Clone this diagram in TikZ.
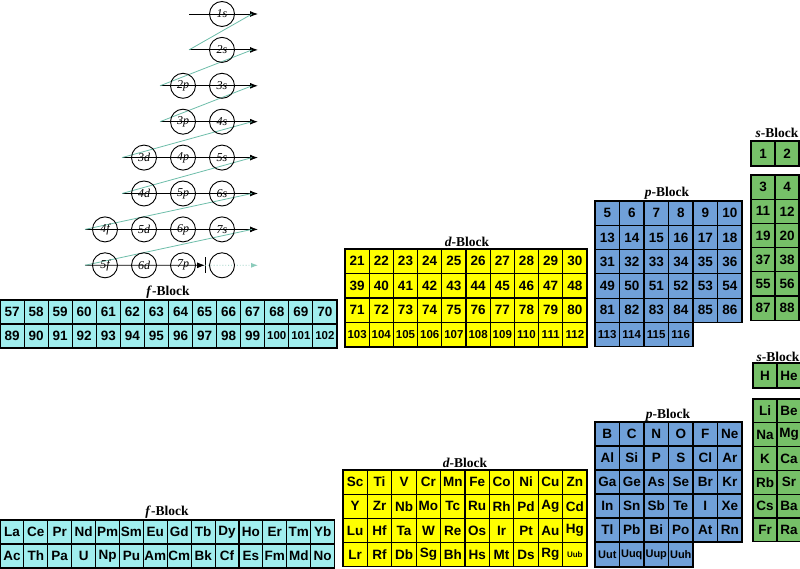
\documentclass[tikz,border=0pt]{standalone}
\usepackage{fontspec}
\setmainfont{Liberation Serif}
\setsansfont{Liberation Sans}
\usetikzlibrary{arrows.meta}

\definecolor{fcol}{RGB}{160,238,238}
\definecolor{dcol}{RGB}{255,255,0}
\definecolor{pcol}{RGB}{112,160,216}
\definecolor{scol}{RGB}{118,192,104}
\definecolor{diag}{RGB}{110,190,170}

\tikzset{
	cell/.style = {draw, line width = 1.1pt, inner sep = 0pt, font = \sffamily\bfseries\fontsize{13.5}{13.5}\selectfont},
	small cell/.style = {font = \sffamily\bfseries\fontsize{11}{11}\selectfont},
	tiny cell/.style = {font = \sffamily\bfseries\fontsize{8}{8}\selectfont},
	blocktitle/.style = {font = \bfseries\fontsize{13.5}{13.5}\selectfont},
	orb/.style = {draw, circle, line width = 0.9pt, minimum size = 25pt, inner sep = 0pt, font = \itshape\fontsize{12}{12}\selectfont},
	rowline/.style = {line width = 0.9pt, -{Latex[length = 8pt, width = 6pt]}},
}

\begin{document}
\begin{tikzpicture}[x = 1pt, y = -1pt]
	\fill[white] (0, 0) rectangle (800, 569);
	\useasboundingbox (0, 0) rectangle (800, 569);

	\foreach \r/\s in {1/189, 2/189, 3/160, 4/160, 5/122, 6/122, 7/85, 8/85} {
		\coordinate (a\r) at (\s, {14 + 35.9*(\r-1)});
		\coordinate (b\r) at (258, {14 + 35.9*(\r-1)});
	}
	\coordinate (m8) at (205, 265.3);
	\foreach \r in {1, ..., 7} {
		\draw[rowline] (a\r) -- (b\r);
	}
	\draw[rowline] (a8) -- (m8);
	\draw[line width = 1pt] ([yshift = 8pt]m8) -- ([yshift = -8pt]m8);
	\draw[diag!80, dotted, line width = 0.9pt, -{Latex[length = 7pt, width = 5pt]}] (m8) -- (b8);
	\foreach \r [evaluate = \r as \n using int(\r+1)] in {1, ..., 7} {
		\draw[diag, line width = 0.8pt] ([xshift = -6pt]b\r) -- (a\n);
	}
	\foreach \lab/\c/\r in {1s/4/1, 2s/4/2, 2p/3/3, 3s/4/3, 3p/3/4, 4s/4/4, 3d/2/5, 4p/3/5, 5s/4/5, 4d/2/6, 5p/3/6, 6s/4/6, 4f/1/7, 5d/2/7, 6p/3/7, 7s/4/7, 5f/1/8, 6d/2/8, 7p/3/8} {
		\node[orb] (o\lab) at ({105 + 39*(\c-1)}, {14 + 35.9*(\r-1)}) {\lab};
	}
	\node[orb] (oempty) at (222, 265.3) {};

	\node[blocktitle] (tft) at (168, 292) {\textit{f}-Block};
	\foreach \lo/\hi [count = \r] in {57/70, 89/102} {
		\foreach \z [count = \c] in {\lo, ..., \hi} {
			\node[cell, fill = fcol, minimum width = 24.07pt, minimum height = 24pt] (tf-\r-\c) at ({12.03 + 24.07*(\c-1)}, {312 + 24*(\r-1)}) {\ifnum\z>99 \fontsize{11.5}{11.5}\selectfont\fi\z};
		}
	}

	\node[blocktitle] (tdt) at (467, 242) {\textit{d}-Block};
	\foreach \lo/\hi [count = \r] in {21/30, 39/48, 71/80, 103/112} {
		\foreach \z [count = \c] in {\lo, ..., \hi} {
			\node[cell, fill = dcol, minimum width = 24.2pt, minimum height = 24.5pt] (td-\r-\c) at ({357.1 + 24.2*(\c-1)}, {261.25 + 24.5*(\r-1)}) {\ifnum\z>99 \fontsize{11.5}{11.5}\selectfont\fi\z};
		}
	}

	\node[blocktitle] (tpt) at (667, 193) {\textit{p}-Block};
	\foreach \lo/\hi [count = \r] in {5/10, 13/18, 31/36, 49/54, 81/86, 113/116} {
		\foreach \z [count = \c] in {\lo, ..., \hi} {
			\node[cell, fill = pcol, minimum width = 24.5pt, minimum height = 24.3pt] (tp-\r-\c) at ({607.25 + 24.5*(\c-1)}, {213.15 + 24.3*(\r-1)}) {\ifnum\z>99 \fontsize{11.5}{11.5}\selectfont\fi\z};
		}
	}

	\node[blocktitle] (tst) at (777, 133) {\textit{s}-Block};
	\foreach \z [count = \c] in {1, 2} {
		\node[cell, fill = scol, minimum width = 24pt, minimum height = 25pt] (ts-0-\c) at ({763 + 24*(\c-1)}, 153.5) {\z};
	}
	\foreach \lo/\hi [count = \r] in {3/4, 11/12, 19/20, 37/38, 55/56, 87/88} {
		\foreach \z [count = \c] in {\lo, \hi} {
			\node[cell, fill = scol, minimum width = 24pt, minimum height = 24.2pt] (ts-\r-\c) at ({763 + 24*(\c-1)}, {187.1 + 24.2*(\r-1)}) {\z};
		}
	}

	\node[blocktitle] (bft) at (167, 512) {\textit{f}-Block};
	\foreach \row [count = \r] in {{La, Ce, Pr, Nd, Pm, Sm, Eu, Gd, Tb, Dy, Ho, Er, Tm, Yb}, {Ac, Th, Pa, U, Np, Pu, Am, Cm, Bk, Cf, Es, Fm, Md, No}} {
		\foreach \z [count = \c] in \row {
			\node[cell, fill = fcol, minimum width = 23.9pt, minimum height = 24pt] (bf-\r-\c) at ({11.95 + 23.9*(\c-1)}, {532 + 24*(\r-1)}) {\z};
		}
	}

	\node[blocktitle] (bdt) at (465, 463) {\textit{d}-Block};
	\foreach \row [count = \r] in {{Sc, Ti, V, Cr, Mn, Fe, Co, Ni, Cu, Zn}, {Y, Zr, Nb, Mo, Tc, Ru, Rh, Pd, Ag, Cd}, {Lu, Hf, Ta, W, Re, Os, Ir, Pt, Au, Hg}, {Lr, Rf, Db, Sg, Bh, Hs, Mt, Ds, Rg}} {
		\foreach \z [count = \c] in \row {
			\node[cell, fill = dcol, minimum width = 24.4pt, minimum height = 24.2pt] (bd-\r-\c) at ({355.2 + 24.4*(\c-1)}, {482.1 + 24.2*(\r-1)}) {\z};
		}
	}
	\node[cell, tiny cell, fill = dcol, minimum width = 24.4pt, minimum height = 24.2pt] (bd-4-10) at (574.8, 554.7) {Uub};

	\node[blocktitle] (bpt) at (668, 415) {\textit{p}-Block};
	\foreach \row [count = \r] in {{B, C, N, O, F, Ne}, {Al, Si, P, S, Cl, Ar}, {Ga, Ge, As, Se, Br, Kr}, {In, Sn, Sb, Te, I, Xe}, {Tl, Pb, Bi, Po, At, Rn}} {
		\foreach \z [count = \c] in \row {
			\node[cell, fill = pcol, minimum width = 24.5pt, minimum height = 24pt] (bp-\r-\c) at ({607.25 + 24.5*(\c-1)}, {434 + 24*(\r-1)}) {\z};
		}
	}
	\foreach \z [count = \c] in {Uut, Uuq, Uup, Uuh} {
		\node[cell, small cell, fill = pcol, minimum width = 24.5pt, minimum height = 25pt] (bp-6-\c) at ({607.25 + 24.5*(\c-1)}, 554.5) {\z};
	}

	\node[blocktitle] (bst) at (778, 357) {\textit{s}-Block};
	\foreach \z [count = \c] in {H, He} {
		\node[cell, fill = scol, minimum width = 24pt, minimum height = 25pt] (bs-0-\c) at ({765 + 24*(\c-1)}, 375.5) {\z};
	}
	\foreach \row [count = \r] in {{Li, Be}, {Na, Mg}, {K, Ca}, {Rb, Sr}, {Cs, Ba}, {Fr, Ra}} {
		\foreach \z [count = \c] in \row {
			\node[cell, fill = scol, minimum width = 24pt, minimum height = 23.8pt] (bs-\r-\c) at ({765 + 24*(\c-1)}, {410.9 + 23.8*(\r-1)}) {\z};
		}
	}
\end{tikzpicture}
\end{document}
